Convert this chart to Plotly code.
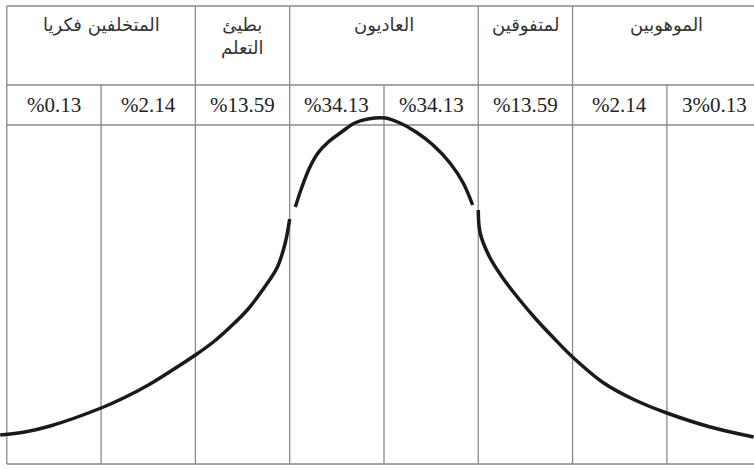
import plotly.graph_objects as go

# bandes en écarts-types (une colonne = 1 sigma)
band_edges = [-4, -3, -2, -1, 0, 1, 2, 3, 4]
band_labels = ["%0.13", "%2.14", "%13.59", "%34.13", "%34.13", "%13.59", "%2.14", "3%0.13"]

# groupes de l'en-tête
group_labels = ["المتخلفين فكريا", "بطيئ<br>التعلم", "العاديون", "لمتفوقين", "الموهوبين"]
group_spans = [(-4, -2), (-2, -1), (-1, 1), (1, 2), (2, 4)]

# courbe : trois morceaux (sigma, hauteur)
left_x = [-4.07, -3.81, -3.54, -3.0, -2.74, -2.48, -2.16, -2.0, -1.81, -1.63, -1.45, -1.28, -1.13, -1.05, -1.0]
left_h = [29, 32, 38, 56, 67, 80, 99, 109, 122, 137, 154, 175, 197, 220, 245]
arc_x = [-0.94, -0.87, -0.79, -0.70, -0.59, -0.45, -0.31, -0.17, 0.01, 0.17, 0.34, 0.52, 0.70, 0.84, 0.94]
arc_h = [257, 277, 296, 311, 322, 332, 341, 345, 346, 341, 332, 319, 301, 281, 259]
right_x = [1.0, 1.02, 1.12, 1.26, 1.44, 1.62, 1.79, 2.0, 2.33, 2.66, 3.0, 3.46, 3.92]
right_h = [254, 231, 207, 186, 164, 144, 127, 107, 81, 64, 51, 37, 27]

# niveaux des lignes du tableau
table_top = 458
header_bottom = 379
body_top = 339
table_bottom = 0

GRID = "#8a8a8a"
INK = "#1a1a1a"

fig = go.Figure()

for xs, hs in [(left_x, left_h), (arc_x, arc_h), (right_x, right_h)]:
    fig.add_trace(go.Scatter(
        x=xs, y=hs, mode="lines", showlegend=False, hoverinfo="skip",
        line=dict(color=INK, width=3.5, shape="spline", smoothing=1.0)
    ))

# lignes horizontales
for yv in [table_top, header_bottom, body_top, table_bottom]:
    fig.add_shape(type="line", x0=band_edges[0], x1=band_edges[-1], y0=yv, y1=yv,
                  line=dict(color=GRID, width=1.5), layer="below")

# verticales : toutes dans la zone pourcentages + corps
for xv in band_edges:
    fig.add_shape(type="line", x0=xv, x1=xv, y0=table_bottom, y1=header_bottom,
                  line=dict(color=GRID, width=1.3), layer="below")

# verticales de l'en-tête
header_edges = sorted({e for span in group_spans for e in span})
for xv in header_edges:
    fig.add_shape(type="line", x0=xv, x1=xv, y0=header_bottom, y1=table_top,
                  line=dict(color=GRID, width=1.3), layer="below")

for i, lab in enumerate(band_labels):
    fig.add_annotation(x=(band_edges[i] + band_edges[i + 1]) / 2, y=(header_bottom + body_top) / 2,
                       text=lab, showarrow=False,
                       font=dict(family="Liberation Serif", size=21, color="#222"))

for lab, (a, b) in zip(group_labels, group_spans):
    fig.add_annotation(x=(a + b) / 2, y=table_top - 6, yanchor="top",
                       text=lab, showarrow=False,
                       font=dict(family="DejaVu Sans", size=18, color="#333"))

fig.update_layout(
    width=754, height=469,
    margin=dict(l=0, r=0, t=0, b=0),
    paper_bgcolor="white", plot_bgcolor="white",
    xaxis=dict(range=[-4.072, 3.924], visible=False, fixedrange=True),
    yaxis=dict(range=[-5, 464], visible=False, fixedrange=True),
)

fig.write_html("out.html", config={"displayModeBar": False},
               post_script="document.body.style.margin='0';")
